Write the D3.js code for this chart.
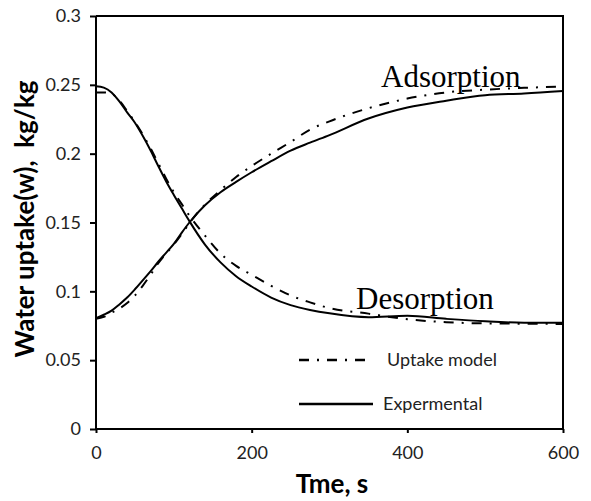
<!DOCTYPE html>
<html>
<head>
<meta charset="utf-8">
<script src="https://cdn.jsdelivr.net/npm/d3@7"></script>
<style>
  html, body { margin: 0; padding: 0; background: #fff; }
  svg { display: block; }
  text { white-space: pre; }
</style>
</head>
<body>
<svg id="chart" width="591" height="501"></svg>
<script>
// ---- data ----
const time = [0, 10, 20, 30, 40, 50, 60, 70, 80, 90, 100, 110, 120, 140, 160, 180, 200, 225, 250, 275, 300, 350, 400, 450, 500, 550, 600];

const expAdsorption = [0.0805, 0.083, 0.086, 0.0905, 0.0955, 0.1015, 0.108, 0.1145, 0.1215, 0.128, 0.1345, 0.1425, 0.150, 0.1625, 0.172, 0.1795, 0.1865, 0.1945, 0.2022, 0.2080, 0.2135, 0.2255, 0.2335, 0.2385, 0.2425, 0.2437, 0.2455];
const modelAdsorption = [0.080, 0.0815, 0.0845, 0.0875, 0.0915, 0.097, 0.104, 0.112, 0.1205, 0.1275, 0.134, 0.1415, 0.1495, 0.163, 0.1735, 0.1830, 0.1910, 0.2000, 0.2085, 0.2175, 0.2235, 0.2330, 0.2400, 0.2445, 0.2465, 0.2478, 0.2487];

const expDesorption = [0.249, 0.248, 0.2445, 0.238, 0.230, 0.2225, 0.213, 0.2025, 0.191, 0.180, 0.170, 0.1605, 0.151, 0.134, 0.121, 0.111, 0.1035, 0.0955, 0.0900, 0.0865, 0.0840, 0.0812, 0.0822, 0.0800, 0.0782, 0.0772, 0.0772];
const modelDesorption = [0.2445, 0.2445, 0.2435, 0.2385, 0.231, 0.223, 0.214, 0.204, 0.193, 0.182, 0.172, 0.1635, 0.155, 0.1405, 0.1275, 0.1185, 0.1120, 0.1040, 0.0970, 0.0920, 0.0878, 0.0838, 0.0797, 0.0776, 0.0767, 0.0765, 0.0763];

const xTicks = [0, 200, 400, 600];
const yTicks = [0, 0.05, 0.1, 0.15, 0.2, 0.25, 0.3];
const yTickLabels = ["0", "0.05", "0.1", "0.15", "0.2", "0.25", "0.3"];

const legendLabels = ["Uptake model", "Expermental"];
const curveLabels = ["Adsorption", "Desorption"];
const xTitle = "Tme, s";
const yTitle = "Water uptake(w),  kg/kg";

// ---- layout ----
const W = 591, H = 501;
const plot = { left: 96, right: 563, top: 16, bottom: 429 };
const dashDot = "10,8,2,8";

const svg = d3.select("#chart");
svg.append("rect").attr("width", W).attr("height", H).attr("fill", "#fff");

const x = d3.scaleLinear().domain([0, 600]).range([plot.left, plot.right]);
const y = d3.scaleLinear().domain([0, 0.3]).range([plot.bottom, plot.top]);

const tickFont = "Lato, 'Open Sans', sans-serif";

// frame (top and right)
svg.append("path")
  .attr("d", `M${plot.left},${plot.top}H${plot.right}V${plot.bottom}`)
  .attr("fill", "none").attr("stroke", "#000").attr("stroke-width", 2);

// left axis
const yAxis = svg.append("g")
  .attr("transform", `translate(${plot.left},0)`)
  .call(d3.axisLeft(y).tickValues(yTicks).tickSize(6).tickPadding(9)
        .tickFormat((d, i) => yTickLabels[i]));
// bottom axis
const xAxis = svg.append("g")
  .attr("transform", `translate(0,${plot.bottom})`)
  .call(d3.axisBottom(x).tickValues(xTicks).tickSize(4).tickPadding(13)
        .tickFormat(d3.format("d")));

[xAxis, yAxis].forEach(g => {
  g.select(".domain").attr("stroke", "#000").attr("stroke-width", 2);
  g.selectAll(".tick line").attr("stroke", "#000").attr("stroke-width", 2);
  g.selectAll(".tick text")
    .attr("fill", "#222")
    .style("font-family", tickFont)
    .style("font-size", "18px");
});
// fix domain paths to not have outer ticks
yAxis.select(".domain").attr("d", `M0,${plot.bottom}V${plot.top}`);
xAxis.select(".domain").attr("d", `M${plot.left},0H${plot.right}`);

// ---- curves ----
const line = vals => d3.line()
  .x((d, i) => x(time[i]))
  .y(d => y(d))
  .curve(d3.curveMonotoneX)(vals);

const series = [
  { v: expAdsorption, dash: null },
  { v: expDesorption, dash: null },
  { v: modelAdsorption, dash: dashDot },
  { v: modelDesorption, dash: dashDot }
];
svg.append("g").selectAll("path").data(series).join("path")
  .attr("d", s => line(s.v))
  .attr("fill", "none")
  .attr("stroke", "#000")
  .attr("stroke-width", 2)
  .attr("stroke-dasharray", s => s.dash);

// ---- curve labels ----
const serif = "'Liberation Serif', 'Times New Roman', serif";
svg.append("text").attr("x", 381).attr("y", 87)
  .style("font-family", serif).style("font-size", "31px").attr("fill", "#000")
  .text(curveLabels[0]);
svg.append("text").attr("x", 356).attr("y", 309)
  .style("font-family", serif).style("font-size", "31px").attr("fill", "#000")
  .text(curveLabels[1]);

// ---- legend ----
const legend = [
  { label: legendLabels[0], dash: dashDot, y: 360 },
  { label: legendLabels[1], dash: null, y: 404 }
];
const lg = svg.append("g");
lg.selectAll("line").data(legend).join("line")
  .attr("x1", 299).attr("x2", 373)
  .attr("y1", d => d.y).attr("y2", d => d.y)
  .attr("stroke", "#000").attr("stroke-width", 2.5)
  .attr("stroke-dasharray", d => d.dash);
lg.selectAll("text").data(legend).join("text")
  .attr("x", (d, i) => i === 0 ? 387 : 383)
  .attr("y", d => d.y)
  .attr("dy", "0.35em")
  .style("font-family", tickFont).style("font-size", "18px")
  .attr("fill", "#222")
  .text(d => d.label);

// ---- axis titles ----
svg.append("text").attr("x", 332).attr("y", 493)
  .attr("text-anchor", "middle")
  .style("font-family", tickFont).style("font-size", "26px").style("font-weight", "bold")
  .attr("fill", "#000")
  .text(xTitle);
svg.append("text")
  .attr("transform", "translate(34,219) rotate(-90)")
  .attr("text-anchor", "middle")
  .style("font-family", tickFont).style("font-size", "26px").style("font-weight", "bold")
  .attr("fill", "#000")
  .text(yTitle);
</script>
</body>
</html>
